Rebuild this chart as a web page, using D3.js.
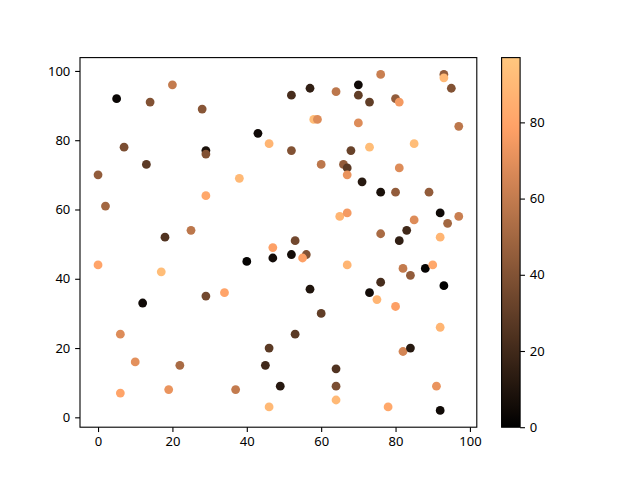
<!DOCTYPE html>
<html><head><meta charset="utf-8">
<script src="https://cdn.jsdelivr.net/npm/d3@7"></script>
<style>body{margin:0;background:#fff}svg{display:block}text{font-family:"Noto Sans","DejaVu Sans",sans-serif;font-size:13px;fill:#000}</style>
</head><body><svg id="c" width="640" height="480"></svg>
<script>
const xs = [5,14,20,28,0,2,7,13,18,25,29,29,29,38,43,46,52,57,58,59,52,60,64,70,70,73,76,80,81,93,93,95,70,68,66,67,67,73,71,76,80,81,85,89,97,65,67,76,85,92,92,94,97,81,83,0,17,12,29,34,40,47,47,52,53,56,55,57,60,67,73,75,76,80,82,84,88,90,93,92,82,84,6,10,6,19,22,37,46,45,49,53,46,64,64,64,78,91,92];
const ys = [92,91,96,89,70,61,78,73,52,54,77,76,64,69,82,79,93,95,86,86,77,73,94,96,93,91,99,92,91,99,98,95,85,77,73,72,70,78,68,65,65,72,79,65,84,58,59,53,57,59,52,56,58,51,54,44,42,33,35,36,45,46,49,47,51,47,46,37,30,44,36,34,39,32,43,41,43,44,38,26,19,20,24,16,7,8,15,8,20,15,9,24,3,14,9,5,3,9,2];
const cs = [3,40,60,42,45,50,38,28,25,58,8,40,82,90,5,88,22,15,92,68,40,58,58,5,30,30,62,45,75,45,90,40,68,32,45,28,72,92,12,8,45,68,92,45,58,88,75,52,68,5,88,50,62,15,20,80,92,5,35,80,2,6,78,6,35,40,78,10,30,88,6,88,22,78,60,45,2,82,0,88,65,12,68,70,80,72,52,60,28,20,12,28,90,25,38,90,82,72,5];
const xTicks = [0,20,40,60,80,100];
const yTicks = [0,20,40,60,80,100];
const cTicks = [0,20,40,60,80];
const cMin = 0, cMax = 97;

function copper(t){
  t = Math.max(0, Math.min(1, t));
  const r = Math.min(1, t/0.809524), g = 0.7812*t, b = 0.4975*t;
  return d3.rgb(Math.round(r*255), Math.round(g*255), Math.round(b*255)).toString();
}
const svg = d3.select("#c");
const L=80, R=476.8, T=57.6, B=427.2;
const x = d3.scaleLinear().domain([-4.85, 101.85]).range([L, R]);
const y = d3.scaleLinear().domain([-2.85, 103.85]).range([B, T]);
const cNorm = d3.scaleLinear().domain([cMin, cMax]).range([0, 1]);

const data = xs.map((d,i)=>({x:d, y:ys[i], c:cs[i]}));
svg.append("g").selectAll("circle").data(data).join("circle")
  .attr("cx", d=>x(d.x)).attr("cy", d=>y(d.y)).attr("r", 4.4)
  .attr("fill", d=>copper(cNorm(d.c)));

const tl = 4.86, tp = 3.5*1.389;
const gx = svg.append("g").attr("transform", `translate(0,${B})`)
  .call(d3.axisBottom(x).tickValues(xTicks).tickSize(tl).tickPadding(tp));
const gy = svg.append("g").attr("transform", `translate(${L},0)`)
  .call(d3.axisLeft(y).tickValues(yTicks).tickSize(tl).tickPadding(tp));
[gx, gy].forEach(g=>{ g.select(".domain").remove(); g.selectAll("line").attr("stroke","#000").attr("stroke-width",1.1);
  g.selectAll("text").attr("font-size",13.5).attr("font-family",null); });
svg.append("rect").attr("x",L).attr("y",T).attr("width",R-L).attr("height",B-T)
  .attr("fill","none").attr("stroke","#000").attr("stroke-width",1.1);

// colorbar
const cbL = 501.6, cbW = 18.5;
const cy = d3.scaleLinear().domain([cMin, cMax]).range([B, T]);
const defs = svg.append("defs");
const grad = defs.append("linearGradient").attr("id","cg").attr("x1",0).attr("y1",1).attr("x2",0).attr("y2",0);
d3.range(0, 1.0001, 0.02).forEach(t=>grad.append("stop").attr("offset", t).attr("stop-color", copper(t)));
svg.append("rect").attr("x",cbL).attr("y",T).attr("width",cbW).attr("height",B-T).attr("fill","url(#cg)");
const gc = svg.append("g").attr("transform", `translate(${cbL+cbW},0)`)
  .call(d3.axisRight(cy).tickValues(cTicks).tickSize(tl).tickPadding(tp));
gc.select(".domain").remove(); gc.selectAll("line").attr("stroke","#000").attr("stroke-width",1.1);
gc.selectAll("text").attr("font-size",13.5).attr("font-family",null);
svg.append("rect").attr("x",cbL).attr("y",T).attr("width",cbW).attr("height",B-T)
  .attr("fill","none").attr("stroke","#000").attr("stroke-width",1.1);
</script></body></html>
